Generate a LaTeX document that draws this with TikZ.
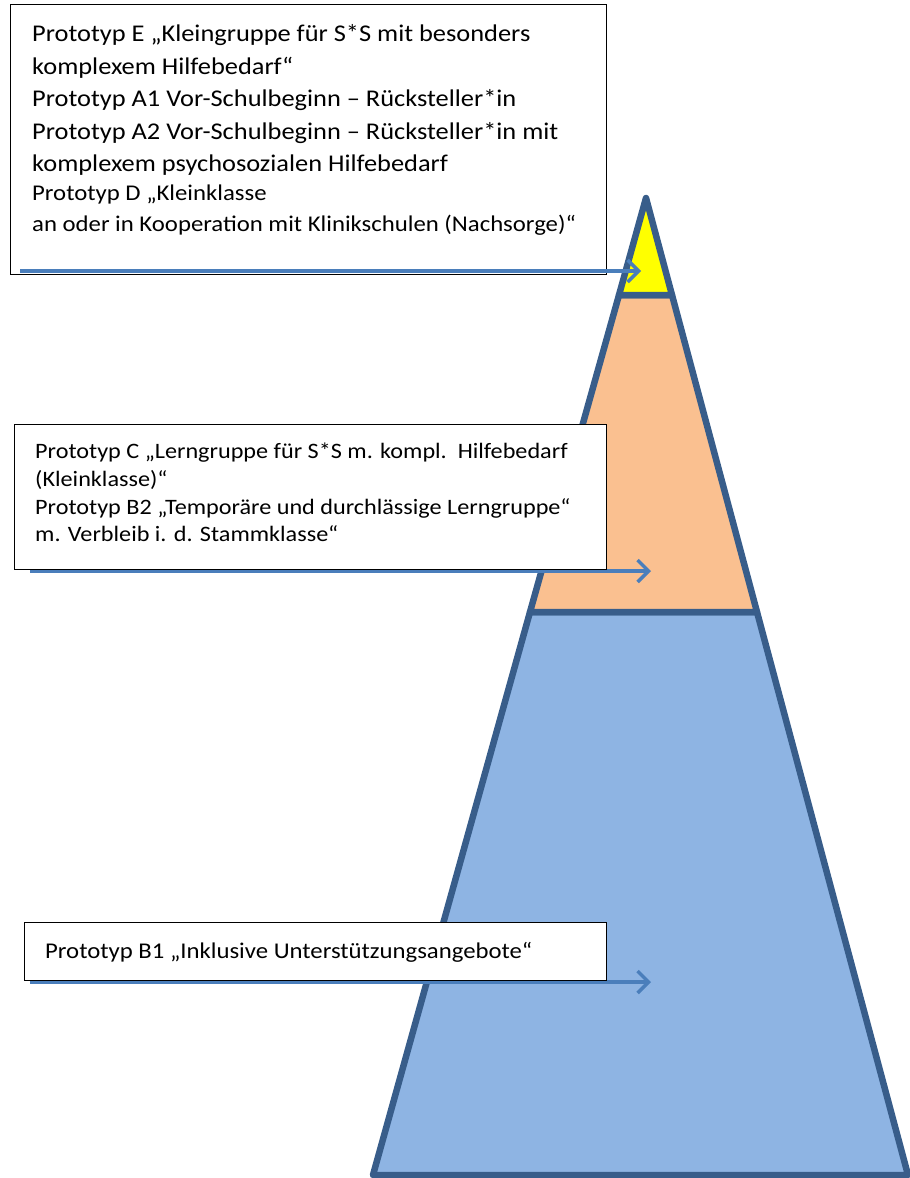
\documentclass[tikz,border=0pt]{standalone}
\usepackage{fontspec}
\setmainfont{Carlito}[FakeStretch=1.1]
\usetikzlibrary{arrows.meta}
\definecolor{edgeblue}{HTML}{385D8A}
\definecolor{arrowblue}{HTML}{4A7EBB}
\definecolor{topyellow}{HTML}{FFFF00}
\definecolor{midpeach}{HTML}{FAC090}
\definecolor{lowblue}{HTML}{8EB4E3}
\tikzset{
  tri/.style={draw=edgeblue, line width=6.5pt, line join=round},
  conn/.style={draw=arrowblue, line width=3.5pt, -{Straight Barb[length=11pt,width=22pt]}},
  box/.style={draw=black, line width=1.3pt, fill=white, anchor=north west, inner sep=0pt},
  big/.style={anchor=base west, inner sep=0pt, font=\fontsize{24}{28}\selectfont},
  small/.style={anchor=base west, inner sep=0pt, font=\fontsize{22.5}{26}\selectfont},
  mid/.style={anchor=base west, inner sep=0pt, font=\fontsize{22}{26}\selectfont},
  low/.style={anchor=base west, inner sep=0pt, font=\fontsize{22.5}{26}\selectfont},
}
\begin{document}
\begin{tikzpicture}[x=1pt,y=-1pt]
\useasboundingbox (0,0) rectangle (910,1178);
% pyramid
\coordinate (apex) at (646,198);
\coordinate (yl) at (619,295);
\coordinate (yr) at (672,295);
\coordinate (pl) at (530,612);
\coordinate (pr) at (757,612);
\coordinate (bl) at (373,1175);
\coordinate (br) at (908,1175);
\filldraw[tri, fill=lowblue] (pl) -- (pr) -- (br) -- (bl) -- cycle;
\filldraw[tri, fill=midpeach] (yl) -- (yr) -- (pr) -- (pl) -- cycle;
\filldraw[tri, fill=topyellow] (apex) -- (yr) -- (yl) -- cycle;
% arrow endpoints
\coordinate (a1s) at (20,271);
\coordinate (a1e) at (641,271);
\coordinate (a2s) at (30,571);
\coordinate (a2e) at (651,571);
\coordinate (a3s) at (30,982);
\coordinate (a3e) at (651,982);
% arrows behind boxes 2 and 3
\draw[conn] (a2s) -- (a2e);
\draw[conn] (a3s) -- (a3e);
% box 1
\node[box, minimum width=596pt, minimum height=270pt] (b1) at (10,4) {};
\draw[conn] (a1s) -- (a1e);
\node[big] (e1) at (32,41) {Prototyp E „Kleingruppe für S*S mit besonders};
\node[big] (e2) at (32,74) {komplexem Hilfebedarf“};
\node[big] (e3) at (32,106) {Prototyp A1 Vor-Schulbeginn – Rücksteller*in};
\node[big] (e4) at (32,139) {Prototyp A2 Vor-Schulbeginn – Rücksteller*in mit};
\node[big] (e5) at (32,171) {komplexem psychosozialen Hilfebedarf};
\node[small] (e6) at (32,200) {Prototyp D „Kleinklasse};
\node[small] (e7) at (32,231) {an oder in Kooperation mit Klinikschulen (Nachsorge)“};
% box 2
\node[box, minimum width=592pt, minimum height=145pt] (b2) at (14,424) {};
\node[mid] (c1) at (35,458) {Prototyp C „Lerngruppe für S*S m. kompl.\ \ Hilfebedarf};
\node[mid] (c2) at (35,486) {(Kleinklasse)“};
\node[mid] (c3) at (35,514) {Prototyp B2 „Temporäre und durchlässige Lerngruppe“};
\node[mid] (c4) at (35,541) {m. Verbleib i. d. Stammklasse“};
% box 3
\node[box, minimum width=582pt, minimum height=58pt] (b3) at (24,922) {};
\node[low] (d1) at (45,958) {Prototyp B1 „Inklusive Unterstützungsangebote“};
\end{tikzpicture}
\end{document}
